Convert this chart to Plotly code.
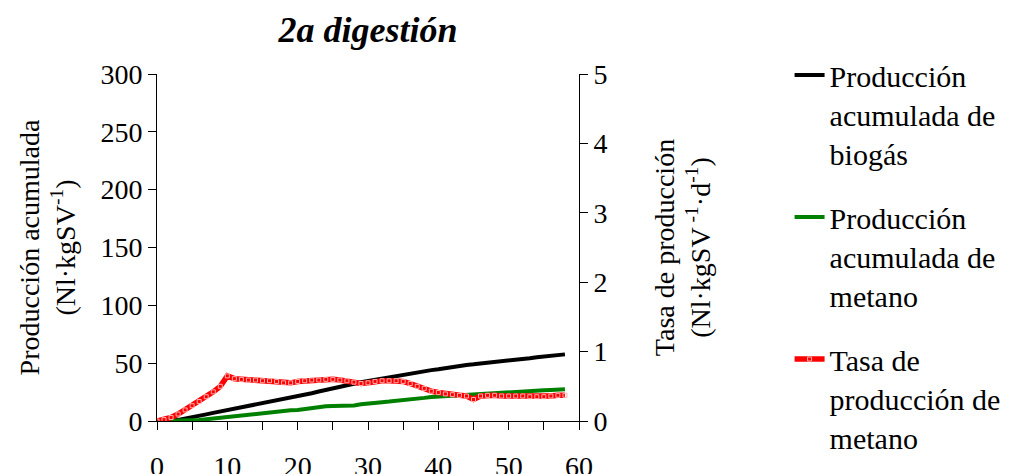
import plotly.graph_objects as go

days = list(range(0, 59))

biogas = [0, 0, 0.3, 1, 2, 3.5, 4.5, 5.7, 7, 8.2, 9.2, 10.5, 11.8, 13.2, 14.5, 15.8, 17, 18.2, 19.3, 20.3,
          21, 22.5, 24, 25.5, 27, 28, 29.5, 31, 32.2, 33.5, 34.6, 35.8, 37, 38.2, 39.3, 40.3, 41.2, 42.2, 43.2, 44,
          44.7, 45.8, 46.8, 47.7, 48.5, 49, 49.6, 50.2, 50.8, 51.3, 51.9, 52.7, 53.5, 54.3, 55.2, 56, 56.5, 57, 57.6]

metano = [0, 0, 0, 0, 0, 0.3, 0.8, 1.5, 2.2, 2.9, 3.5, 4.1, 4.7, 5.4, 6, 6.6, 7.3, 8, 8.7, 9.3,
          9.5, 10.5, 11.5, 12.2, 12.8, 13, 13.1, 13.2, 13.5, 14.5, 15.3, 15.8, 16.3, 16.8, 17.3, 17.9, 18.5, 19.2, 20, 20.8,
          21.2, 21.7, 22.1, 22.4, 22.7, 23, 23.3, 23.6, 23.9, 24.2, 24.5, 24.9, 25.3, 25.7, 26.1, 26.5, 26.8, 27.1, 27.4]

tasa = [0, 0.02, 0.05, 0.1, 0.16, 0.22, 0.28, 0.35, 0.42, 0.5, 0.65, 0.61, 0.6, 0.59, 0.59, 0.58, 0.58, 0.57, 0.55, 0.55,
        0.57, 0.58, 0.59, 0.59, 0.6, 0.6, 0.59, 0.58, 0.56, 0.54, 0.55, 0.57, 0.58, 0.58, 0.58, 0.57, 0.54, 0.5, 0.47, 0.43,
        0.41, 0.39, 0.38, 0.37, 0.36, 0.31, 0.36, 0.37, 0.37, 0.36, 0.36, 0.36, 0.36, 0.35, 0.35, 0.35, 0.36, 0.37, 0.37]

FONT = "Liberation Serif, Times New Roman, serif"

fig = go.Figure()
fig.add_trace(go.Scatter(x=days, y=biogas, mode="lines", name="Producción<br>acumulada de<br>biogás",
                         line=dict(color="black", width=4), legendgroup="a"))
fig.add_trace(go.Scatter(x=days, y=metano, mode="lines", name="Producción<br>acumulada de<br>metano",
                         line=dict(color="green", width=4), legendgroup="b"))
fig.add_trace(go.Scatter(x=days, y=tasa, mode="lines+markers", name="Tasa de<br>producción de<br>metano",
                         line=dict(color="#ff0000", width=5.5),
                         marker=dict(symbol="square-open", size=4, color="#ffb0b0", line=dict(width=1, color="#ffb0b0")),
                         yaxis="y2", legendgroup="c"))

axis_common = dict(showline=True, linecolor="black", linewidth=1, ticks="outside", ticklen=8,
                   tickcolor="black", showgrid=False, zeroline=False, automargin=False,
                   tickfont=dict(family=FONT, size=28, color="black"))

fig.update_layout(
    width=1018, height=474,
    margin=dict(l=157, r=431, t=74, b=53),
    paper_bgcolor="white", plot_bgcolor="white",
    font=dict(family=FONT, size=28, color="black"),
    title=dict(text="<b><i>2a digestión</i></b>", x=0.5, xref="paper", xanchor="center",
               y=0.965, yref="container", yanchor="top", automargin=False,
               font=dict(family=FONT, size=36, color="black")),
    xaxis=dict(range=[0, 60], dtick=10, tick0=0, ticklabelstandoff=12,
               minor=dict(dtick=5, ticks="outside", ticklen=8, tickcolor="black"),
               **axis_common),
    yaxis=dict(range=[0, 300], dtick=50, tick0=0,
               title=dict(text="Producción acumulada<br>(Nl·kgSV<sup>-1</sup>)", standoff=16,
                          font=dict(family=FONT, size=28)),
               **axis_common),
    yaxis2=dict(range=[0, 5], dtick=1, tick0=0, overlaying="y", side="right",
                title=dict(text="Tasa de producción<br>(Nl·kgSV<sup> -1</sup>·d<sup>-1</sup>)", standoff=47,
                           font=dict(family=FONT, size=28)),
                **axis_common),
    legend=dict(x=1.499, y=1.072, xanchor="left", yanchor="top", tracegroupgap=22,
                valign="top", maxheight=470, font=dict(family=FONT, size=30, color="black"),
                bgcolor="rgba(0,0,0,0)"),
    showlegend=True,
)

fig.write_html("out.html")
